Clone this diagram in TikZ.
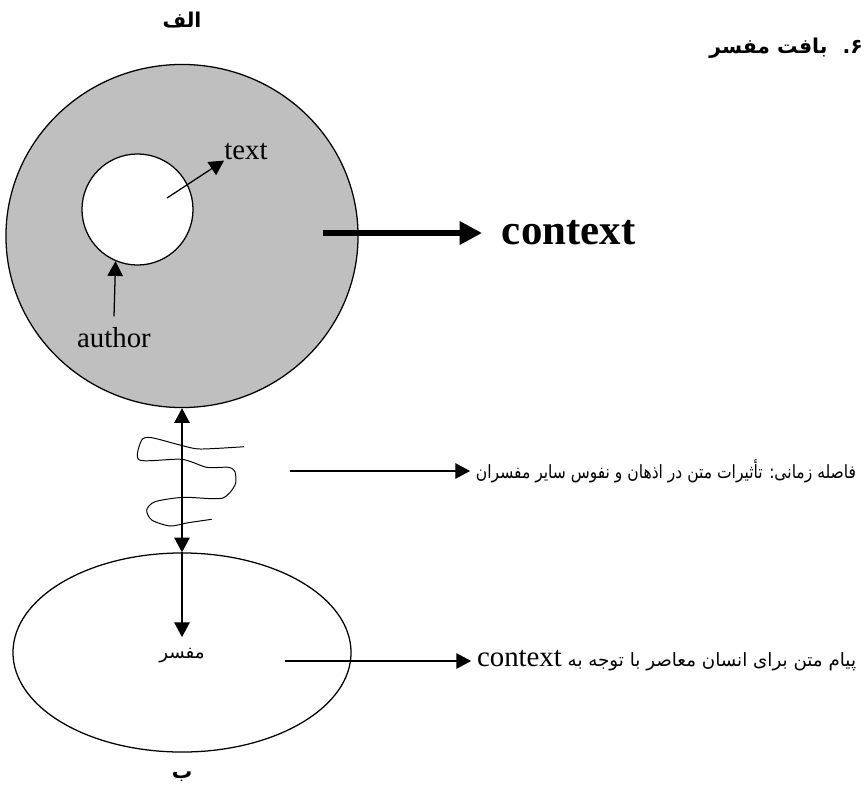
\documentclass[tikz,border=0pt]{standalone}
\usepackage{fontspec}
\setmainfont{Liberation Serif}
\newfontfamily\fa[Script=Arabic]{DejaVu Sans}
\TeXXeTstate=1
\usetikzlibrary{arrows.meta,shapes.geometric}

\begin{document}
\begin{tikzpicture}[x=0.025cm, y=-0.025cm,
  arr/.style={-{Triangle[length=10.5pt,width=11pt]}, line width=0.9pt},
  darr/.style={{Triangle[length=10.5pt,width=11pt]}-{Triangle[length=10.5pt,width=11pt]}, line width=0.9pt},
  fatarr/.style={-{Triangle[length=16pt,width=16pt]}, line width=3.8pt},
  farsi/.style={font=\fa\fontsize{13}{15}\selectfont, inner sep=0pt},
  farsibold/.style={font=\fa\bfseries\fontsize{14.5}{16}\selectfont, inner sep=0pt},
  en/.style={font=\fontsize{20.5}{24}\selectfont, inner sep=0pt}]
\useasboundingbox (0,0) rectangle (867,802);

% Headings
\node[farsibold] (alef) at (182,20) {\beginR الف\endR};
\node[farsibold, anchor=east] (title) at (863,48) {\beginR ۶.\hspace{4pt} بافت مفسر\endR};

% Outer context of the text
\node[draw, ellipse, fill=black!25, line width=0.9pt, minimum width=8.8cm, minimum height=8.575cm] (outer) at (182,236) {};
\node[draw, circle, fill=white, line width=0.9pt, minimum size=2.775cm] (inner) at (137.5,209.5) {};

% text and author
\coordinate (tstart) at (167,198);
\node[en] (txt) at (246,152) {text};
\draw[arr] (tstart) -- (txt.south west);
\node[en, inner sep=8pt] (author) at (114,338) {author};
\draw[arr] (author.north) -- (inner.-113);

% context
\coordinate (cstart) at (323,233);
\node[font=\bfseries\fontsize{30.5}{34}\selectfont, anchor=west, inner xsep=14pt, inner ysep=0pt] (ctx) at (482,233) {context};
\draw[fatarr] (cstart) -- (ctx.west);

% Reader
\node[draw, ellipse, line width=0.9pt, minimum width=8.45cm, minimum height=4.975cm] (lower) at (182,652.5) {};
\node[farsi, inner sep=8pt] (mof) at (182,656) {\beginR مفسر\endR};
\draw[darr] (outer.south) -- (lower.north);
\draw[arr] (lower.north) -- (mof.north);

% time gap
\draw[line width=0.7pt] plot[smooth, tension=0.45] coordinates {(244,446.7) (200,449) (180,445) (151.7,437.7) (141.7,440) (139.3,460) (181.7,459.3) (206.7,467.3) (228.3,467.3) (235,471.7) (235,485) (221.7,498.3) (183.3,497.3) (155,501.7) (146.7,510) (151.7,520) (170,526) (188.3,522.7) (211.7,519.3)};

% Labels on the right
\coordinate (mstart) at (290,471);
\node[farsi, anchor=east, inner xsep=4pt] (delay) at (862,471) {\scalebox{0.85}[1]{\beginR فاصله زمانی: تأثیرات متن در اذهان و نفوس سایر مفسران\endR}};
\draw[arr] (mstart) -- (delay.west);
\coordinate (bstart) at (285,661);
\node[farsi, anchor=east, inner xsep=4pt] (msg) at (862,661) {\beginR پیام متن برای انسان معاصر با توجه به \beginL{\rmfamily\fontsize{20.5}{24}\selectfont context}\endL\endR};
\draw[arr] (bstart) -- (msg.west);

\node[farsibold] (be) at (182,777) {\beginR ب\endR};
\end{tikzpicture}
\end{document}
